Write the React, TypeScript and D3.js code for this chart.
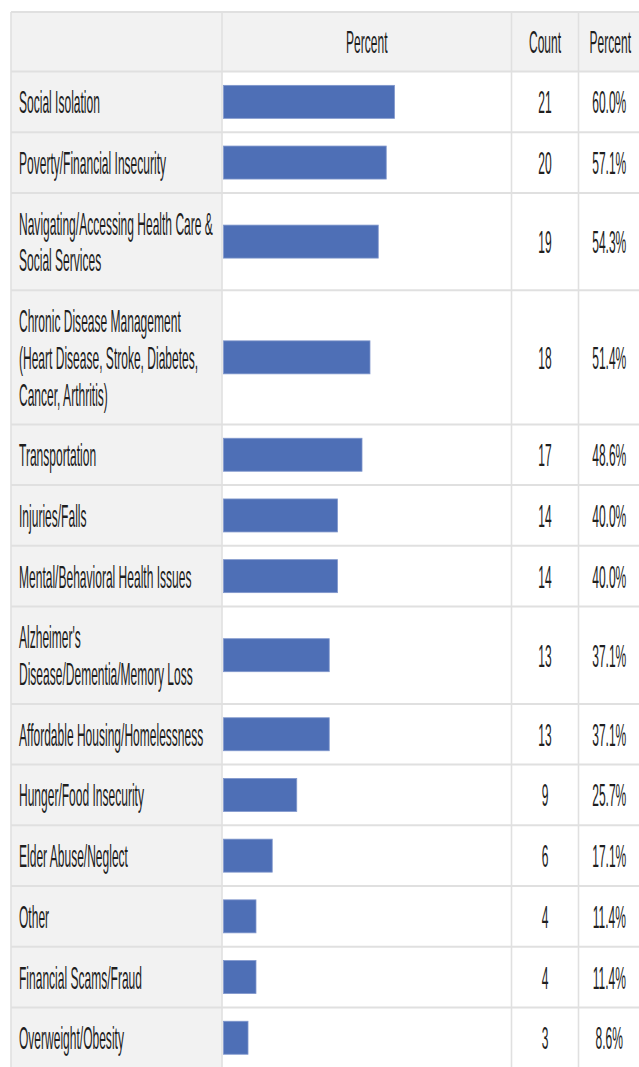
import React from "react";
import * as d3 from "d3";

const headers = ["", "Percent", "Count", "Percent"];
const labelLines: string[][] = [
  ["Social Isolation"],
  ["Poverty/Financial Insecurity"],
  ["Navigating/Accessing Health Care &", "Social Services"],
  ["Chronic Disease Management", "(Heart Disease, Stroke, Diabetes,", "Cancer, Arthritis)"],
  ["Transportation"],
  ["Injuries/Falls"],
  ["Mental/Behavioral Health Issues"],
  ["Alzheimer's", "Disease/Dementia/Memory Loss"],
  ["Affordable Housing/Homelessness"],
  ["Hunger/Food Insecurity"],
  ["Elder Abuse/Neglect"],
  ["Other"],
  ["Financial Scams/Fraud"],
  ["Overweight/Obesity"],
];
const counts = [21, 20, 19, 18, 17, 14, 14, 13, 13, 9, 6, 4, 4, 3];
const percents = [60.0, 57.1, 54.3, 51.4, 48.6, 40.0, 40.0, 37.1, 37.1, 25.7, 17.1, 11.4, 11.4, 8.6];

export default function App() {
  const W = 639;
  const H = 1067;
  const tableTop = 12;
  const headerH = 59.5;
  const rowPad = 24;
  const lineH = 36.7;
  const colX = [11, 222, 511.5, 578.5, 642];
  const barX0 = 223.5;
  const barH = 33;
  const fontSize = 32;
  const sx = 0.376;
  const capHalf = 11.5;
  const font = "'Liberation Sans', Arial, sans-serif";
  const textColor = "#1e1e1e";
  const border = "#e0e0e0";

  const x = d3.scaleLinear().domain([0, 100]).range([0, 285]);
  const fmt = d3.format(".1f");

  const rows: { y0: number; h: number }[] = [];
  let y = tableTop + headerH;
  labelLines.forEach((lines) => {
    const h = rowPad + lineH * lines.length;
    rows.push({ y0: y, h });
    y += h;
  });
  const tableBottom = y + 20;

  const txt = (
    key: string,
    tx: number,
    ty: number,
    s: string,
    anchor: "start" | "middle" | "end"
  ) => (
    <text
      key={key}
      transform={`translate(${tx},${ty}) scale(${sx},1)`}
      textAnchor={anchor}
      fontFamily={font}
      fontSize={fontSize}
      fill={textColor}
    >
      {s}
    </text>
  );

  return (
    <div style={{ position: "absolute", left: 0, top: 0 }}>
      <svg width={W} height={H} style={{ display: "block" }}>
        <rect x={0} y={0} width={W} height={H} fill="#fff" />
        <rect x={colX[0]} y={tableTop} width={colX[4] - colX[0]} height={headerH} fill="#f2f2f2" />
        <rect
          x={colX[0]}
          y={tableTop + headerH}
          width={colX[1] - colX[0]}
          height={tableBottom - tableTop - headerH}
          fill="#f2f2f2"
        />
        {headers.map((h, i) =>
          h
            ? txt(`h${i}`, (colX[i] + colX[i + 1]) / 2, tableTop + headerH / 2 + capHalf, h, "middle")
            : null
        )}
        {rows.map((r, i) => {
          const cy = r.y0 + r.h / 2;
          const lines = labelLines[i];
          return (
            <g key={`r${i}`}>
              {lines.map((ln, j) =>
                txt(`l${i}-${j}`, 19, cy + (j - (lines.length - 1) / 2) * lineH + capHalf, ln, "start")
              )}
              <rect
                x={barX0}
                y={cy - barH / 2}
                width={x(percents[i])}
                height={barH}
                fill="#4e6fb6"
                stroke="#8097cc"
                strokeWidth={0.8}
              />
              {txt(`c${i}`, (colX[2] + colX[3]) / 2, cy + capHalf, String(counts[i]), "middle")}
              {txt(`p${i}`, (colX[3] + colX[4]) / 2 - 1, cy + capHalf, fmt(percents[i]) + "%", "middle")}
            </g>
          );
        })}
        {[tableTop, tableTop + headerH, ...rows.map((r) => r.y0 + r.h)].map((yy, i) => (
          <line key={`hb${i}`} x1={colX[0]} x2={W} y1={yy} y2={yy} stroke={border} strokeWidth={2} />
        ))}
        {colX.slice(0, 4).map((xx, i) => (
          <line key={`vb${i}`} x1={xx} x2={xx} y1={tableTop} y2={tableBottom} stroke={border} strokeWidth={1.6} />
        ))}
      </svg>
    </div>
  );
}
